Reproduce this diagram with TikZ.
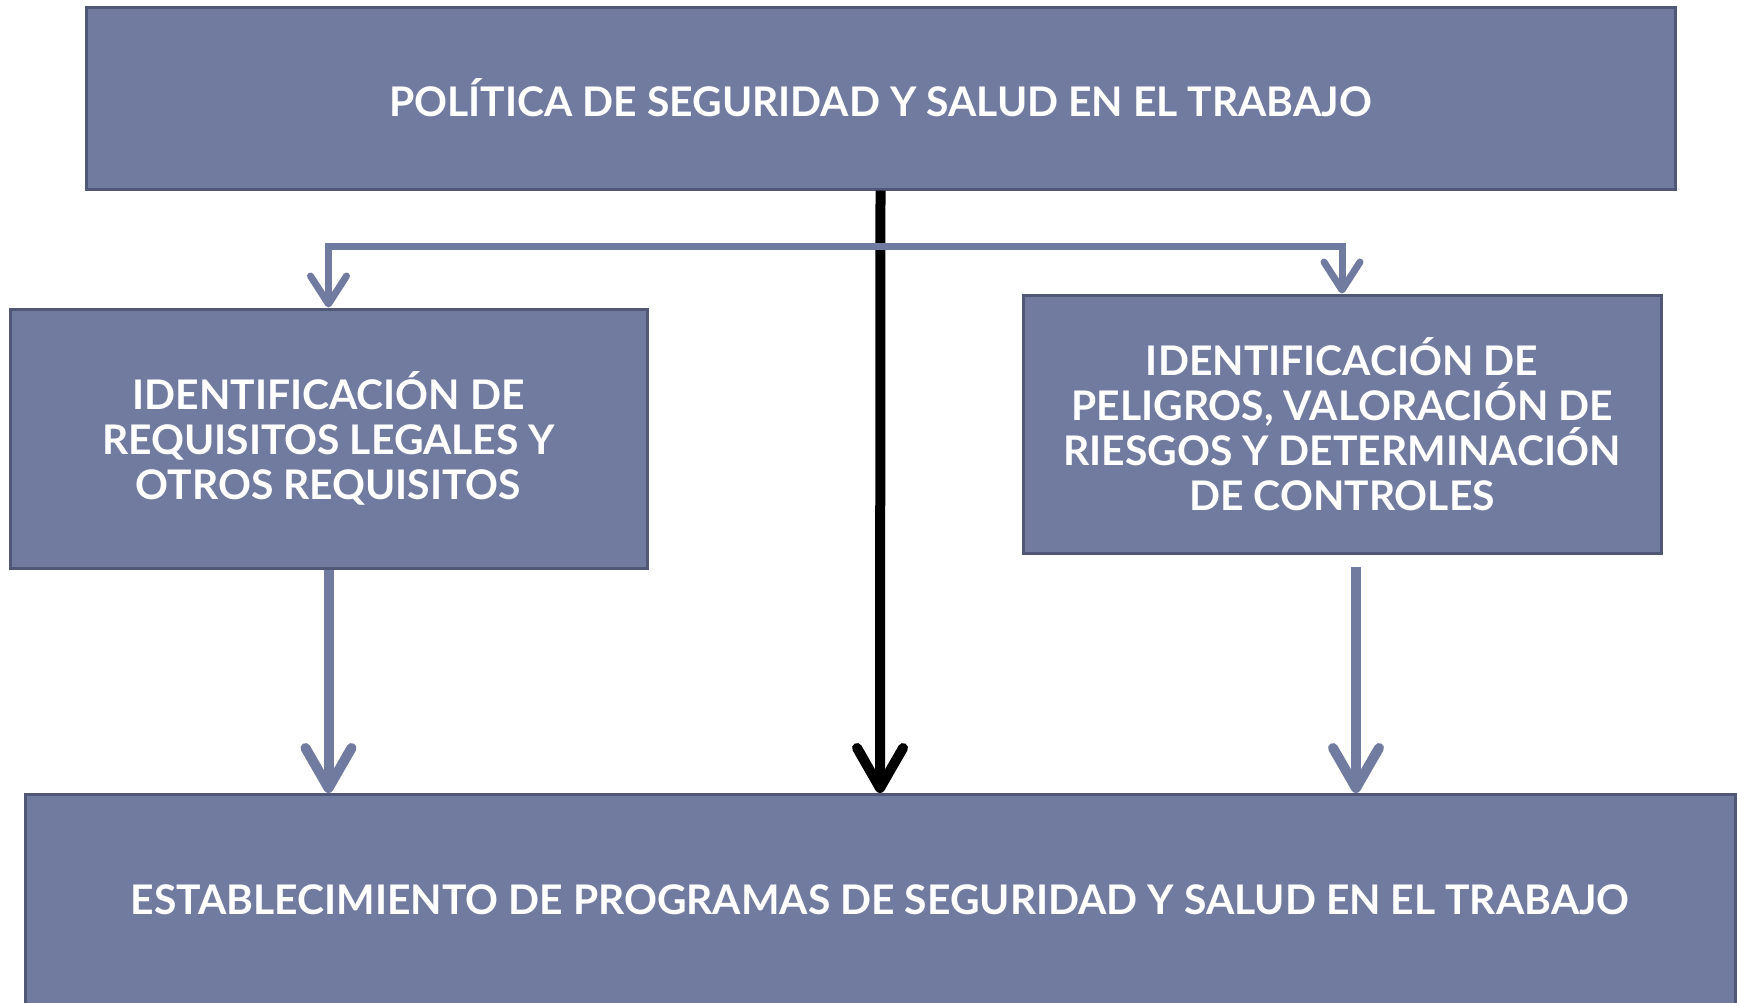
\documentclass[tikz,border=0pt]{standalone}
\usepackage{fontspec}
\setmainfont{Lato}
\usetikzlibrary{arrows.meta}
\definecolor{boxfill}{RGB}{113,123,160}
\definecolor{boxline}{RGB}{80,87,119}
\tikzset{
  box/.style={draw=boxline, line width=3pt, fill=boxfill, text=white, font=\bfseries\fontsize{40.8}{45}\selectfont, align=center, inner sep=0pt},
  flowthin/.style={draw=boxfill, line width=7pt, -{Straight Barb[round,length=28pt,width=36pt,line width=7pt]}},
  flowthick/.style={draw=boxfill, line width=10pt, -{Straight Barb[round,length=40pt,width=46pt,line width=10pt]}},
  flowmain/.style={draw=black, line width=10pt, -{Straight Barb[round,length=40pt,width=46pt,line width=10pt]}}
}
\begin{document}
\begin{tikzpicture}[x=1pt,y=-1pt]
\useasboundingbox (0,0) rectangle (1737,1002);
\node[box, minimum width=1589pt, minimum height=182pt] (top) at (880.5,98) {POLÍTICA DE SEGURIDAD Y SALUD EN EL TRABAJO};
\node[box, minimum width=637pt, minimum height=259pt] (left) at (328.5,438.5) {IDENTIFICACIÓN DE\\REQUISITOS LEGALES Y\\OTROS REQUISITOS};
\node[box, minimum width=638pt, minimum height=258pt] (right) at (1342,424) {IDENTIFICACIÓN DE\\PELIGROS, VALORACIÓN DE\\RIESGOS Y DETERMINACIÓN\\DE CONTROLES};
\node[box, minimum width=1710pt, minimum height=230pt, anchor=north] (bottom) at (880,793) {};
\node[text=white, font=\bfseries\fontsize{40.8}{45}\selectfont] (btext) at (880,900) {ESTABLECIMIENTO DE PROGRAMAS DE SEGURIDAD Y SALUD EN EL TRABAJO};
\coordinate (branch) at (881,246);
\coordinate (rstart) at (1356,567);
\draw[flowmain] (top.south) -- (bottom.north);
\draw[flowthin] (branch) -| (left.north);
\draw[flowthin] (branch) -| (right.north);
\draw[flowthick] (left.south) -- (left.south |- bottom.north);
\draw[flowthick] (rstart) -- (rstart |- bottom.north);
\end{tikzpicture}
\end{document}
